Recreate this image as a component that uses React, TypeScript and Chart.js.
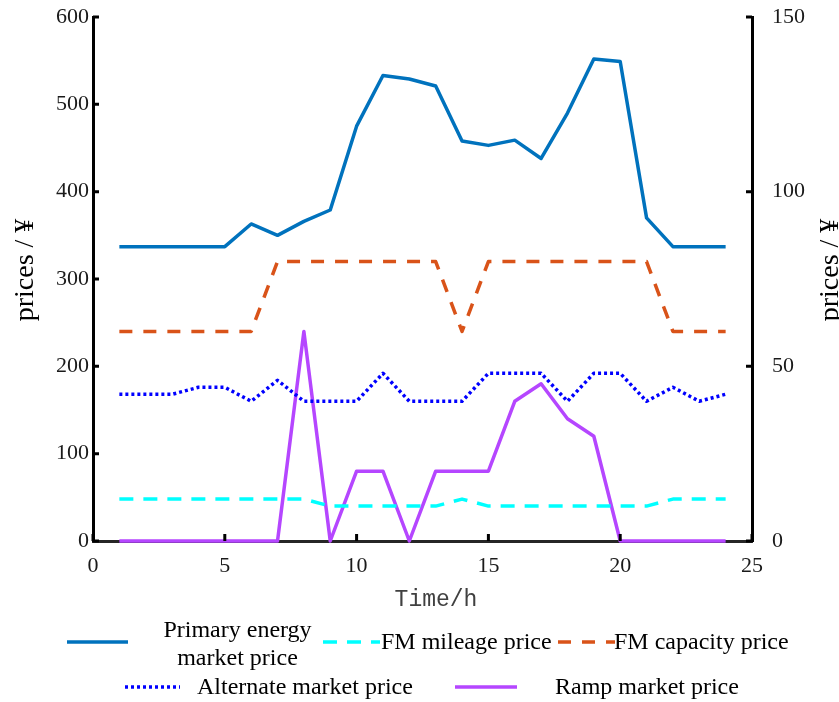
import React, { useEffect, useRef } from "react";
import { Chart, registerables } from "chart.js";

Chart.register(...registerables);

// ---- data ----
const hours = [1, 2, 3, 4, 5, 6, 7, 8, 9, 10, 11, 12, 13, 14, 15, 16, 17, 18, 19, 20, 21, 22, 23, 24];
const primaryEnergy = [337, 337, 337, 337, 337, 363, 350, 366, 379, 475, 533, 529, 521, 458, 453, 459, 438, 490, 552, 549, 370, 337, 337, 337];
const fmMileage = [12, 12, 12, 12, 12, 12, 12, 12, 10, 10, 10, 10, 10, 12, 10, 10, 10, 10, 10, 10, 10, 12, 12, 12];
const fmCapacity = [60, 60, 60, 60, 60, 60, 80, 80, 80, 80, 80, 80, 80, 60, 80, 80, 80, 80, 80, 80, 80, 60, 60, 60];
const alternate = [42, 42, 42, 44, 44, 40, 46, 40, 40, 40, 48, 40, 40, 40, 48, 48, 48, 40, 48, 48, 40, 44, 40, 42];
const ramp = [0, 0, 0, 0, 0, 0, 0, 60, 0, 20, 20, 0, 20, 20, 20, 40, 45, 35, 30, 0, 0, 0, 0, 0];

const xTicks = [0, 5, 10, 15, 20, 25];
const leftTicks = [0, 100, 200, 300, 400, 500, 600];
const rightTicks = [0, 50, 100, 150];

const seriesNames = [
  "Primary energy\nmarket price",
  "FM mileage price",
  "FM capacity price",
  "Alternate market price",
  "Ramp market price",
];
const xTitle = "Time/h";
const yTitle = "prices / ¥";

const SERIF = '"Liberation Serif", "Times New Roman", serif';
const COLORS = ["#0072BD", "#00FFFF", "#D95319", "#0000FF", "#B546FF"];
const DASHES: number[][] = [[], [14, 10], [13, 11], [3, 3], []];

const toPts = (ys: number[]) => hours.map((h, i) => ({ x: h, y: ys[i] }));

const decorPlugin = {
  id: "decor",
  afterDraw(chart: any) {
    const ctx = chart.ctx as CanvasRenderingContext2D;
    const { x, yL, yR } = chart.scales;
    const area = chart.chartArea;
    ctx.save();
    // inward tick marks
    ctx.strokeStyle = "#000";
    ctx.lineWidth = 3;
    ctx.setLineDash([]);
    ctx.beginPath();
    xTicks.forEach((v) => {
      const px = x.getPixelForValue(v);
      ctx.moveTo(px, area.bottom);
      ctx.lineTo(px, area.bottom - 7);
    });
    leftTicks.forEach((v) => {
      const py = yL.getPixelForValue(v);
      ctx.moveTo(area.left, py);
      ctx.lineTo(area.left + 6, py);
    });
    rightTicks.forEach((v) => {
      const py = yR.getPixelForValue(v);
      ctx.moveTo(area.right, py);
      ctx.lineTo(area.right - 6, py);
    });
    ctx.stroke();

    // axis titles
    ctx.fillStyle = "#000";
    ctx.font = `28px ${SERIF}`;
    ctx.textAlign = "center";
    ctx.textBaseline = "middle";
    [26, 831].forEach((cx) => {
      ctx.save();
      ctx.translate(cx, 270);
      ctx.rotate(-Math.PI / 2);
      ctx.fillText(yTitle, 0, 0);
      ctx.restore();
    });
    ctx.fillStyle = "#404040";
    ctx.font = `23px "Liberation Mono", "DejaVu Sans Mono", monospace`;
    ctx.fillText(xTitle, 436, 600);

    // legend
    const items = [
      { s: 0, x1: 67, x2: 128, y: 642, tx: 237.5, align: "center" },
      { s: 1, x1: 323, x2: 380, y: 642, tx: 381, align: "left" },
      { s: 2, x1: 558, x2: 615, y: 642, tx: 614, align: "left" },
      { s: 3, x1: 125, x2: 180, y: 687, tx: 197, align: "left" },
      { s: 4, x1: 455, x2: 517, y: 687, tx: 555, align: "left" },
    ];
    items.forEach((it) => {
      ctx.strokeStyle = COLORS[it.s];
      ctx.lineWidth = 3.5;
      ctx.setLineDash(DASHES[it.s]);
      ctx.lineCap = "butt";
      ctx.beginPath();
      ctx.moveTo(it.x1, it.y);
      ctx.lineTo(it.x2, it.y);
      ctx.stroke();
      ctx.setLineDash([]);
      ctx.fillStyle = "#000";
      ctx.font = `24px ${SERIF}`;
      ctx.textAlign = it.align as CanvasTextAlign;
      ctx.textBaseline = "middle";
      const lines = seriesNames[it.s].split("\n");
      if (lines.length === 1) {
        ctx.fillText(lines[0], it.tx, it.y + 1);
      } else {
        ctx.fillText(lines[0], it.tx, 631);
        ctx.fillText(lines[1], it.tx, 659);
      }
    });
    ctx.restore();
  },
};

export default function App() {
  const ref = useRef<HTMLCanvasElement | null>(null);
  useEffect(() => {
    document.body.style.margin = "0";
    const canvas = ref.current!;
    const mk = (i: number, data: number[], axis: string) => ({
      label: seriesNames[i].replace("\n", " "),
      data: toPts(data),
      yAxisID: axis,
      borderColor: COLORS[i],
      backgroundColor: COLORS[i],
      borderWidth: 3.5,
      borderDash: DASHES[i],
      borderJoinStyle: "round" as const,
      pointRadius: 0,
      tension: 0,
      fill: false,
      clip: false as any,
    });
    const zeroPad = (s: any) => {
      s.paddingTop = 0;
      s.paddingBottom = 0;
      s.paddingLeft = 0;
      s.paddingRight = 0;
    };
    const chart = new Chart(canvas, {
      type: "line",
      data: {
        datasets: [
          mk(3, alternate, "yR"),
          mk(1, fmMileage, "yR"),
          mk(2, fmCapacity, "yR"),
          mk(0, primaryEnergy, "yL"),
          mk(4, ramp, "yR"),
        ],
      },
      options: {
        responsive: false,
        animation: false,
        devicePixelRatio: 1,
        layout: { padding: { top: 17, bottom: 81, left: 0, right: 0 } },
        plugins: { legend: { display: false }, tooltip: { enabled: false }, title: { display: false } },
        scales: {
          x: {
            type: "linear",
            min: 0,
            max: 25,
            afterBuildTicks: (s: any) => { s.ticks = xTicks.map((v) => ({ value: v })); },
            afterFit: (s: any) => { s.height = 80; zeroPad(s); },
            grid: { display: false, drawTicks: false },
            border: { display: true, color: "#262626", width: 3 },
            ticks: { font: { family: SERIF, size: 22 }, color: "#1a1a1a", padding: 12, maxRotation: 0 },
          },
          yL: {
            type: "linear",
            position: "left",
            min: 0,
            max: 600,
            afterBuildTicks: (s: any) => { s.ticks = leftTicks.map((v) => ({ value: v })); },
            afterFit: (s: any) => { s.width = 93; zeroPad(s); },
            grid: { display: false, drawTicks: false },
            border: { display: true, color: "#000", width: 3 },
            ticks: { font: { family: SERIF, size: 22 }, color: "#1a1a1a", padding: 4 },
          },
          yR: {
            type: "linear",
            position: "right",
            min: 0,
            max: 150,
            afterBuildTicks: (s: any) => { s.ticks = rightTicks.map((v) => ({ value: v })); },
            afterFit: (s: any) => { s.width = 87; zeroPad(s); },
            grid: { display: false, drawTicks: false },
            border: { display: true, color: "#000", width: 3 },
            ticks: { font: { family: SERIF, size: 22 }, color: "#1a1a1a", padding: 20 },
          },
        },
      },
      plugins: [decorPlugin],
    });
    return () => chart.destroy();
  }, []);
  return (
    <div style={{ position: "absolute", left: 0, top: 0, width: 839, height: 702, background: "#fff" }}>
      <canvas ref={ref} width={839} height={702} style={{ width: 839, height: 702, display: "block" }} />
    </div>
  );
}
